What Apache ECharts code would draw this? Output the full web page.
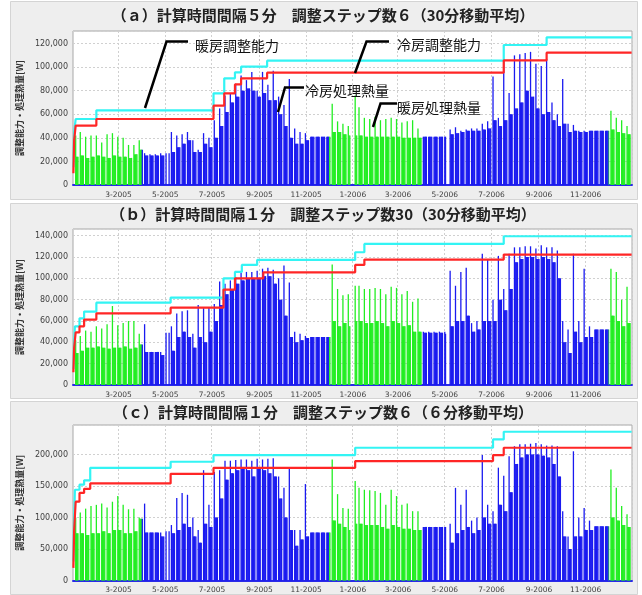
<!DOCTYPE html>
<html><head><meta charset="utf-8">
<script src="https://cdn.jsdelivr.net/npm/echarts@6/dist/echarts.min.js"></script>
<style>html,body{margin:0;padding:0;background:#fff}#c{width:642px;height:595px}</style>
</head><body><div id="c"></div>
<script>
// ---------------- DATA ----------------
const panelTitles = [
  '（ａ）計算時間間隔５分　調整ステップ数６（30分移動平均）',
  '（ｂ）計算時間間隔１分　調整ステップ数30（30分移動平均）',
  '（ｃ）計算時間間隔１分　調整ステップ数６（６分移動平均）'
];
const yAxisName = '調整能力・処理熱量[W]';
const seriesNames = ['暖房処理熱量', '冷房処理熱量', '暖房調整能力', '冷房調整能力'];
const yMaxes = [130700, 146200, 246700];
const yIntervals = [20000, 20000, 50000];

// days off (index from 2005-01-01) seen as gaps
const holidays = [0, 1, 2, 122, 123, 124, 362, 363, 364, 365, 366, 367, 487, 488, 489];

// weekly loads [kW], week k starts Monday 2005-01-03 + 7k
// peak = first working day of the week, base = other working days
const peakA = [42,45,41,42,42,36,43,44,41,40,34,34,38,
  27,26,26,27,27,45,42,43,45,38,30,44,40,
  55,65,76,78,86,93,89,96,80,96,85,97,75,68,90,48,45,44,
  41,41,41,41,
  69,54,52,50,76,66,57,56,58,55,56,57,56,53,54,55,48,
  41,41,41,41,41,47,49,46,47,48,48,52,54,92,57,106,78,110,111,112,113,103,101,107,70,60,90,52,51,46,46,46,46,46,46,
  63,57,55,50];
const baseA = [24,25,23,24,25,24,23,25,24,24,23,26,30,
  25,25,25,25,24,28,32,35,38,28,28,35,32,
  40,50,62,70,75,80,82,80,75,78,72,72,60,50,40,35,35,38,
  41,41,41,41,
  45,45,43,42,42,42,41,41,41,41,41,41,41,40,40,40,40,
  41,41,41,41,41,43,44,45,46,46,46,47,48,55,50,55,60,65,70,80,75,65,60,62,55,50,52,45,46,45,45,46,46,46,46,
  47,45,44,43];
const peakB = [42,46,51,50,55,53,57,74,56,58,60,60,48,
  57,31,31,31,49,55,67,69,70,48,75,72,73,
  76,97,95,98,101,105,106,106,107,109,110,108,100,112,96,50,48,46,
  45,45,45,45,
  113,90,84,85,93,93,90,90,91,90,85,92,91,85,88,78,81,
  50,50,50,50,50,107,93,106,110,58,60,123,118,80,121,90,123,129,129,130,130,128,131,129,129,126,60,52,123,60,109,55,52,52,52,
  109,106,80,92];
const baseB = [30,32,35,35,36,35,34,35,35,36,34,35,38,
  31,31,31,28,30,32,45,50,45,35,45,40,50,
  60,75,85,90,95,98,100,100,100,102,102,95,80,65,45,40,42,44,
  45,45,45,45,
  60,55,58,55,60,60,58,58,60,58,55,60,58,55,56,50,50,
  49,49,49,49,48,55,60,60,65,50,52,60,60,60,80,70,90,115,118,120,120,118,120,118,115,100,40,30,50,40,45,45,52,52,52,
  65,60,55,58];
const peakC = [100,108,114,118,120,122,116,125,134,120,113,114,100,
  122,76,76,76,78,88,131,139,136,100,80,175,120,
  172,175,190,190,191,192,192,190,193,192,193,194,165,147,180,80,80,153,
  76,76,76,76,
  192,137,115,114,158,147,144,143,142,139,120,144,134,120,122,110,110,
  85,85,85,85,85,90,147,120,144,95,100,199,120,110,179,166,197,213,216,216,217,218,216,214,214,213,110,70,205,100,115,95,86,86,86,
  176,147,118,105];
const baseC = [75,75,72,75,75,78,75,80,80,75,75,78,98,
  76,76,76,70,60,75,80,90,85,70,60,90,85,
  100,130,160,170,175,178,175,165,178,175,170,165,130,100,80,55,65,70,
  76,76,76,76,
  95,90,85,80,90,90,88,88,88,85,82,88,85,82,82,80,80,
  85,85,85,85,85,60,75,80,85,75,80,100,90,90,120,110,140,185,195,200,200,200,198,195,185,165,70,50,70,70,80,80,86,86,86,
  100,95,88,85];

// capacity steps [dayIndex, W] (heating = cyan, cooling = red)
const heatCapA = [[0,15000],[1,45000],[3,56000],[30,63400],[183,77800],[197,90500],[211,95600],[219,100400],[253,105500],[562,118800],[618,125300],[729,125300]];
const coolCapA = [[0,10000],[1,38000],[3,50400],[30,56000],[183,67300],[197,77800],[211,85400],[219,90500],[253,95300],[562,105800],[618,112300],[729,112300]];
const heatCapB = [[0,15000],[1,40000],[2,55000],[8,62500],[14,68800],[30,77200],[127,81900],[196,100000],[211,106000],[220,112500],[240,117200],[368,124400],[380,132200],[562,139400],[729,139400]];
const coolCapB = [[0,12000],[1,35000],[3,49400],[8,55000],[14,61300],[30,67200],[127,72500],[196,89400],[211,100000],[248,105600],[368,112500],[380,117500],[562,122200],[729,122200]];
const heatCapC = [[0,30000],[1,100000],[2,144000],[8,152000],[14,159000],[22,178800],[127,188400],[183,199000],[368,210600],[548,223800],[562,236000],[729,236000]];
const coolCapC = [[0,20000],[1,80000],[3,125000],[8,139000],[14,145500],[22,154000],[127,169300],[183,178800],[368,189400],[548,199000],[562,210600],[729,210600]];

// ---------------- BUILD ----------------
const NDAYS = 730;
const T0 = Date.UTC(2005, 0, 1);
const dayKeys = [];
const dayInfo = [];
for (let i = 0; i < NDAYS; i++) {
  const d = new Date(T0 + i * 86400000);
  const y = d.getUTCFullYear(), m = d.getUTCMonth() + 1, dd = d.getUTCDate();
  dayKeys.push(y + '-' + String(m).padStart(2, '0') + '-' + String(dd).padStart(2, '0'));
  const dow = d.getUTCDay();
  dayInfo.push({ m: m, work: dow !== 0 && dow !== 6 && holidays.indexOf(i) < 0 });
}
function buildDaily(peak, base) {
  const heat = [], cool = [];
  for (let i = 0; i < NDAYS; i++) {
    const k = Math.max(0, Math.floor((i - 2) / 7));
    let v = 0;
    if (dayInfo[i].work) {
      const prevOff = i === 0 || !dayInfo[i - 1].work;
      v = (prevOff ? peak[k] : base[k]) * 1000;
    }
    const isHeat = dayInfo[i].m === 12 || dayInfo[i].m <= 3;
    heat.push(isHeat ? v : null);
    cool.push(isHeat ? null : v);
  }
  return { heat, cool };
}
const panels = [
  Object.assign(buildDaily(peakA, baseA), { hc: heatCapA, cc: coolCapA }),
  Object.assign(buildDaily(peakB, baseB), { hc: heatCapB, cc: coolCapB }),
  Object.assign(buildDaily(peakC, baseC), { hc: heatCapC, cc: coolCapC })
];

// ---------------- LAYOUT / STYLE ----------------
const FONT = '"Noto Sans CJK JP", sans-serif';
const gridPos = [
  { top: 31, height: 154 },
  { top: 229, height: 156 },
  { top: 425, height: 155.5 }
];
const panelBg = [[10, 1, 627, 198], [10, 203, 627, 195], [10, 401, 627, 193]];
const titleY = [15, 214, 412];

const labelInterval = function (idx, val) {
  const mm = +val.slice(5, 7);
  return idx !== 0 && val.slice(8) === '01' && mm % 2 === 1;
};

const grid = [], xAxis = [], yAxis = [], series = [];
for (let p = 0; p < 3; p++) {
  grid.push({ left: 73, width: 559, top: gridPos[p].top, height: gridPos[p].height,
    show: true, backgroundColor: '#ffffff', borderColor: '#a8a8a8', borderWidth: 1 });
  xAxis.push({ type: 'category', gridIndex: p, data: dayKeys, boundaryGap: true,
    axisLine: { show: true, lineStyle: { color: '#2a2ae8', width: 2 } },
    axisTick: { show: false },
    axisLabel: { interval: labelInterval, margin: 6, fontSize: 7.5, color: '#404040', fontFamily: 'DejaVu Sans',
      formatter: function (v) { return (+v.slice(5, 7)) + '-' + v.slice(0, 4); } },
    splitLine: { show: true, interval: labelInterval, lineStyle: { color: '#d0d0d0', type: [2, 2], width: 1 } }
  });
  const step = yIntervals[p];
  yAxis.push({ type: 'value', gridIndex: p, min: 0, max: yMaxes[p], interval: step,
    axisLine: { show: false }, axisTick: { show: false },
    axisLabel: { margin: 5, fontSize: 8, color: '#404040', fontFamily: 'DejaVu Sans',
      formatter: function (v) { return v % step === 0 ? v.toLocaleString('en-US') : ''; } },
    splitLine: { show: true, lineStyle: { color: '#d0d0d0', type: [2, 2], width: 1 } },
    name: yAxisName, nameLocation: 'middle', nameGap: 43,
    nameTextStyle: { fontSize: 9, fontWeight: 'bold', color: '#333', fontFamily: FONT }
  });
  const d = panels[p];
  series.push({ name: seriesNames[0], type: 'bar', xAxisIndex: p, yAxisIndex: p, data: d.heat,
    barWidth: 1.3, barGap: '-100%', itemStyle: { color: '#22ee22' }, z: 2 });
  series.push({ name: seriesNames[1], type: 'bar', xAxisIndex: p, yAxisIndex: p, data: d.cool,
    barWidth: 1.3, barGap: '-100%', itemStyle: { color: '#1a1af0' }, z: 2 });
  series.push({ name: seriesNames[2], type: 'line', step: 'end', xAxisIndex: p, yAxisIndex: p, data: d.hc,
    showSymbol: false, lineStyle: { color: '#33f4f4', width: 2.2 }, z: 5 });
  series.push({ name: seriesNames[3], type: 'line', step: 'end', xAxisIndex: p, yAxisIndex: p, data: d.cc,
    showSymbol: false, lineStyle: { color: '#ff2626', width: 2.2 }, z: 6 });
}

const graphic = [];
panelBg.forEach(function (r) {
  graphic.push({ type: 'rect', z: -100, shape: { x: r[0] + 0.5, y: r[1] + 0.5, width: r[2], height: r[3] },
    style: { fill: '#eeeeee', stroke: '#d4d4d4', lineWidth: 1 } });
});
panelTitles.forEach(function (t, i) {
  graphic.push({ type: 'text', z: 50, x: 323, y: titleY[i],
    style: { text: t, font: 'bold 15px ' + FONT, fill: '#222', align: 'center', verticalAlign: 'middle',
      textAlign: 'center', textVerticalAlign: 'middle' } });
});
const notes = [
  { text: '暖房調整能力', x: 195, y: 46, pts: [[145, 108], [166.5, 41.5], [188, 41.5]] },
  { text: '冷房調整能力', x: 397, y: 45, pts: [[355, 73], [366.5, 41.5], [389, 41.5]] },
  { text: '冷房処理熱量', x: 305, y: 91, pts: [[278, 112], [285, 87.5], [304, 87.5]] },
  { text: '暖房処理熱量', x: 397, y: 108, pts: [[373, 127], [380.5, 103.5], [397, 103.5]] }
];
notes.forEach(function (n) {
  graphic.push({ type: 'polyline', z: 60, shape: { points: n.pts },
    style: { stroke: '#000', lineWidth: 2.5, fill: null } });
  graphic.push({ type: 'text', z: 60, x: n.x, y: n.y,
    style: { text: n.text, font: '14px ' + FONT, fill: '#111', align: 'left', verticalAlign: 'middle',
      textAlign: 'left', textVerticalAlign: 'middle' } });
});

const chart = echarts.init(document.getElementById('c'), null, { renderer: 'canvas' });
chart.setOption({
  animation: false,
  backgroundColor: '#ffffff',
  grid: grid, xAxis: xAxis, yAxis: yAxis, series: series, graphic: graphic
});
</script></body></html>
